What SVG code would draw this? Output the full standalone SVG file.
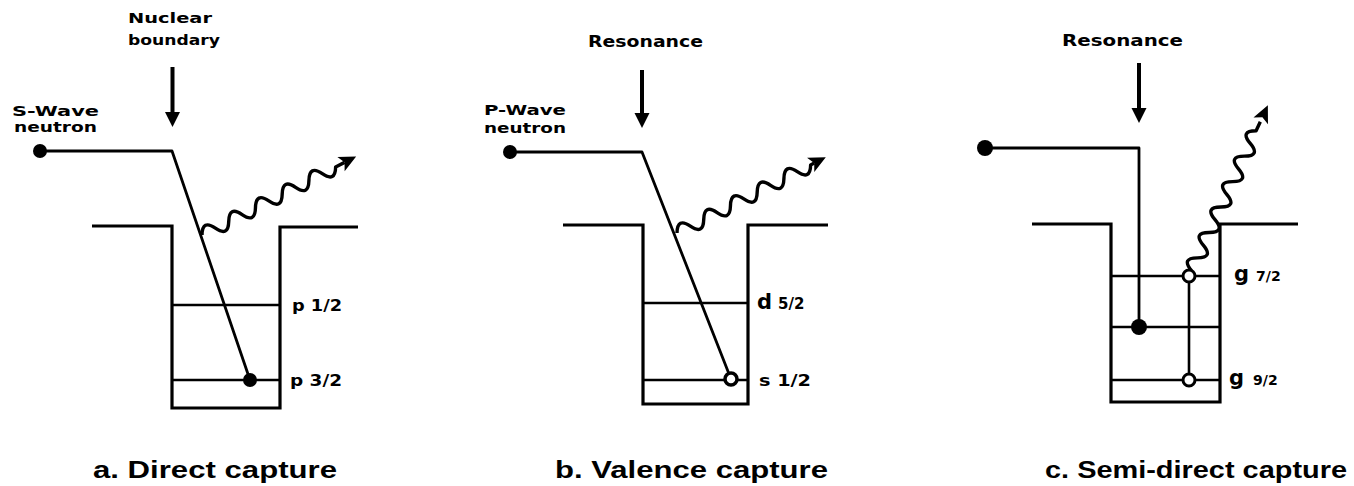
<svg xmlns="http://www.w3.org/2000/svg" width="1354" height="486" viewBox="0 0 1354 486">
<style>
.well{fill:none;stroke:#000;stroke-width:3.2;stroke-linejoin:miter}
.lvl{fill:none;stroke:#000;stroke-width:2.6}
.path{fill:none;stroke:#000;stroke-width:2.8;stroke-linejoin:round}
.wave{fill:none;stroke:#000;stroke-width:3.4;stroke-linejoin:round}
.ind{stroke:#000;stroke-width:4}
.lbl{font-family:"DejaVu Sans","Liberation Sans",sans-serif;font-weight:bold;fill:#000}
.cap{font-family:"Liberation Sans",Arial,sans-serif;font-weight:bold;font-size:24px;fill:#000}
</style>
<defs>
<path id="head" d="M0,0 L-17,-8 L-13,0 L-17,8 Z" fill="#000"/>
<path id="downhead" d="M-7.5,0 L7.5,0 L0,15 Z" fill="#000"/>
</defs>

<g id="panel-a">
<text class="lbl" x="128" y="23" font-size="14" textLength="84" lengthAdjust="spacingAndGlyphs">Nuclear</text>
<text class="lbl" x="128" y="45" font-size="14" textLength="92" lengthAdjust="spacingAndGlyphs">boundary</text>
<text class="lbl" x="12" y="116" font-size="14" textLength="87" lengthAdjust="spacingAndGlyphs">S-Wave</text>
<text class="lbl" x="14" y="132" font-size="14" textLength="83" lengthAdjust="spacingAndGlyphs">neutron</text>
<line class="ind" x1="172.5" y1="67" x2="172.5" y2="114"/>
<use href="#downhead" x="172.5" y="112"/>
<path class="well" d="M92,226 H172 V408 H280 V227 H358"/>
<line class="lvl" x1="172" y1="305" x2="280" y2="305"/>
<line class="lvl" x1="172" y1="380" x2="280" y2="380"/>
<path class="path" d="M40,151 H172 L250,380"/>
<circle cx="40" cy="151" r="7"/>
<circle cx="250" cy="380" r="7"/>
<g transform="translate(202,235) rotate(-27)">
<path class="wave" d="M0,0 q7.5,-14 15,0 t15,0 t15,0 t15,0 t15,0 t15,0 t15,0 t15,0 t15,0 t15,0 H160"/>
<use href="#head" x="173" y="0"/>
</g>
<text class="lbl" x="292" y="311" font-size="15" textLength="50" lengthAdjust="spacingAndGlyphs">p 1/2</text>
<text class="lbl" x="290" y="386" font-size="15" textLength="52" lengthAdjust="spacingAndGlyphs">p 3/2</text>
</g>

<g id="panel-b">
<text class="lbl" x="588" y="47" font-size="15" textLength="115" lengthAdjust="spacingAndGlyphs">Resonance</text>
<text class="lbl" x="484" y="115" font-size="14" textLength="82" lengthAdjust="spacingAndGlyphs">P-Wave</text>
<text class="lbl" x="484" y="133" font-size="14" textLength="82" lengthAdjust="spacingAndGlyphs">neutron</text>
<line class="ind" x1="642" y1="70" x2="642" y2="115"/>
<use href="#downhead" x="642" y="113"/>
<path class="well" d="M563,225 H643 V404 H748 V225 H828"/>
<line class="lvl" x1="643" y1="303" x2="748" y2="303"/>
<line class="lvl" x1="643" y1="380" x2="748" y2="380"/>
<path class="path" d="M510,152 H642 L731,379"/>
<circle cx="510" cy="152" r="7"/>
<circle cx="731" cy="379" r="6" fill="#fff" stroke="#000" stroke-width="3.5"/>
<g transform="translate(677,233) rotate(-27)">
<path class="wave" d="M0,0 q7.5,-14 15,0 t15,0 t15,0 t15,0 t15,0 t15,0 t15,0 t15,0 t15,0 t15,0 H154"/>
<use href="#head" x="167" y="0"/>
</g>
<text class="lbl" x="757" y="309"><tspan font-size="21">d</tspan><tspan font-size="15" dx="6">5/2</tspan></text>
<text class="lbl" x="759" y="386" font-size="15" textLength="52" lengthAdjust="spacingAndGlyphs">s 1/2</text>
</g>

<g id="panel-c">
<text class="lbl" x="1062" y="46" font-size="15" textLength="121" lengthAdjust="spacingAndGlyphs">Resonance</text>
<line class="ind" x1="1139" y1="63" x2="1139" y2="110"/>
<use href="#downhead" x="1139" y="108"/>
<path class="well" d="M1032,224 H1111 V402 H1220 V224 H1298"/>
<line class="lvl" x1="1111" y1="276" x2="1220" y2="276"/>
<line class="lvl" x1="1111" y1="327" x2="1220" y2="327"/>
<line class="lvl" x1="1111" y1="380" x2="1220" y2="380"/>
<path class="path" d="M985,148 H1139 V327"/>
<circle cx="985" cy="148" r="8"/>
<circle cx="1139" cy="327" r="8"/>
<line class="lvl" x1="1189" y1="276" x2="1189" y2="380"/>
<g transform="translate(1189,276) rotate(-65.2)">
<path class="wave" d="M6,0 q7,-15 14,0 t14,0 t14,0 t14,0 t14,0 t14,0 t14,0 t14,0 t14,0 t14,0 t14,0 H170"/>
<use href="#head" x="188" y="0"/>
</g>
<circle cx="1189" cy="276" r="6" fill="#fff" stroke="#000" stroke-width="3"/>
<circle cx="1189" cy="380" r="6" fill="#fff" stroke="#000" stroke-width="3"/>
<text class="lbl" x="1234" y="281"><tspan font-size="21">g</tspan><tspan font-size="14" dx="7">7/2</tspan></text>
<text class="lbl" x="1229" y="385"><tspan font-size="21">g</tspan><tspan font-size="14" dx="9">9/2</tspan></text>
</g>

<g id="captions">
<text class="cap" x="93" y="478" textLength="244" lengthAdjust="spacingAndGlyphs">a. Direct capture</text>
<text class="cap" x="555" y="478" textLength="273" lengthAdjust="spacingAndGlyphs">b. Valence capture</text>
<text class="cap" x="1045" y="478" textLength="302" lengthAdjust="spacingAndGlyphs">c. Semi-direct capture</text>
</g>
</svg>
